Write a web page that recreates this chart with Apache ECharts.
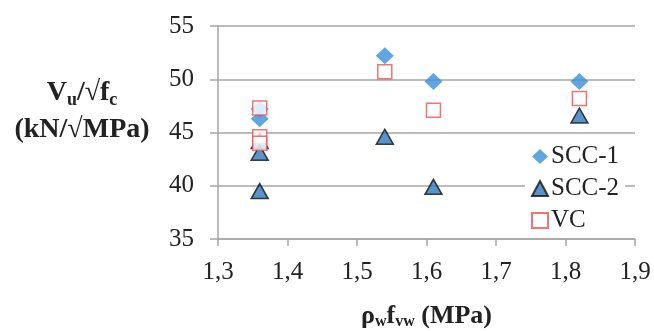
<!DOCTYPE html>
<html>
<head>
<meta charset="utf-8">
<script src="https://cdn.jsdelivr.net/npm/echarts@6/dist/echarts.min.js"></script>
<style>
html,body{margin:0;padding:0;background:#fff;}
#chart{width:654px;height:331px;}
</style>
</head>
<body>
<div id="chart"></div>
<script>
// Data
var xTicks = [1.3, 1.4, 1.5, 1.6, 1.7, 1.8, 1.9];
var yTicks = [35, 40, 45, 50, 55];

var scc1X = [1.36, 1.36, 1.54, 1.61, 1.82];
var scc1Y = [47.2, 46.3, 52.2, 49.8, 49.8];

var scc2X = [1.36, 1.36, 1.36, 1.54, 1.61, 1.82];
var scc2Y = [44.2, 43.1, 39.5, 44.6, 39.9, 46.6];

var vcX = [1.36, 1.36, 1.36, 1.54, 1.61, 1.82];
var vcY = [47.3, 44.6, 44.0, 50.7, 47.1, 48.2];

function pairs(xs, ys) { return xs.map(function (x, i) { return [x, ys[i]]; }); }

var FONT = '"Liberation Serif", "DejaVu Serif", serif';
var chart = echarts.init(document.getElementById('chart'), null, {renderer: 'canvas'});

chart.setOption({
  animation: false,
  backgroundColor: '#fff',
  grid: {left: 218, right: 19, top: 26, bottom: 92, containLabel: false, outerBoundsMode: 'none'},
  xAxis: {
    type: 'value',
    min: xTicks[0], max: xTicks[xTicks.length - 1], interval: 0.1,
    axisLine: {show: true, lineStyle: {color: '#a6a6a6', width: 1.5}},
    axisTick: {show: true, length: 7, inside: false, lineStyle: {color: '#a6a6a6', width: 1.5}},
    splitLine: {show: false},
    axisLabel: {
      margin: 21, color: '#222', fontFamily: FONT, fontSize: 25,
      formatter: function (v) { return v.toFixed(1).replace('.', ','); }
    },
    name: '{b|ρ}{s|w}{b|f}{s|vw}{b| (MPa)}',
    nameLocation: 'middle',
    nameGap: 63,
    nameTextStyle: {
      rich: {
        b: {fontFamily: FONT, fontSize: 26, fontWeight: 'bold', color: '#222'},
        s: {fontFamily: FONT, fontSize: 16, fontWeight: 'bold', color: '#222', verticalAlign: 'bottom', padding: [12, 0, 0, 0]}
      }
    }
  },
  yAxis: {
    type: 'value',
    min: yTicks[0], max: yTicks[yTicks.length - 1], interval: 5,
    axisLine: {show: true, lineStyle: {color: '#a6a6a6', width: 1.5}},
    axisTick: {show: true, length: 8, inside: false, lineStyle: {color: '#a6a6a6', width: 1.5}},
    splitLine: {show: true, lineStyle: {color: '#a6a6a6', width: 1.5}},
    axisLabel: {margin: 24, color: '#222', fontFamily: FONT, fontSize: 25}
  },
  graphic: [
    {
      type: 'text',
      style: {
        x: 82, y: 93, align: 'center', verticalAlign: 'middle',
        text: '{b|V}{s|u}{b|/√f}{s|c}',
        rich: {
          b: {fontFamily: FONT, fontSize: 28, fontWeight: 'bold', fill: '#222'},
          s: {fontFamily: FONT, fontSize: 18, fontWeight: 'bold', fill: '#222', padding: [15, 0, 0, 0]}
        }
      }
    },
    {
      type: 'text',
      style: {
        x: 82, y: 130, align: 'center', verticalAlign: 'middle',
        text: '(kN/√MPa)',
        font: 'bold 28px ' + FONT, fill: '#222'
      }
    }
  ],
  legend: {
    orient: 'vertical',
    left: 525, top: 142,
    backgroundColor: '#fff',
    padding: [2, 6, 2, 6],
    itemGap: 7,
    itemWidth: 16, itemHeight: 15,
    textStyle: {fontFamily: FONT, fontSize: 25, color: '#222', padding: [0, 0, 0, -2]},
    data: [
      {name: 'SCC-1', icon: 'diamond'},
      {name: 'SCC-2', icon: 'triangle'},
      {name: 'VC', icon: 'rect'}
    ]
  },
  series: [
    {
      name: 'SCC-1', type: 'scatter', symbol: 'diamond', symbolSize: [18, 17],
      itemStyle: {color: '#3a8fd9', borderWidth: 0},
      data: pairs(scc1X, scc1Y)
    },
    {
      name: 'SCC-2', type: 'scatter', symbol: 'triangle', symbolSize: [17, 15],
      itemStyle: {color: '#2f78be', borderColor: '#111', borderWidth: 1.5},
      data: pairs(scc2X, scc2Y)
    },
    {
      name: 'VC', type: 'scatter', symbol: 'rect', symbolSize: 14,
      itemStyle: {color: '#ffffff', borderColor: '#f2504b', borderWidth: 1.5},
      data: pairs(vcX, vcY)
    }
  ]
});
</script>
</body>
</html>
